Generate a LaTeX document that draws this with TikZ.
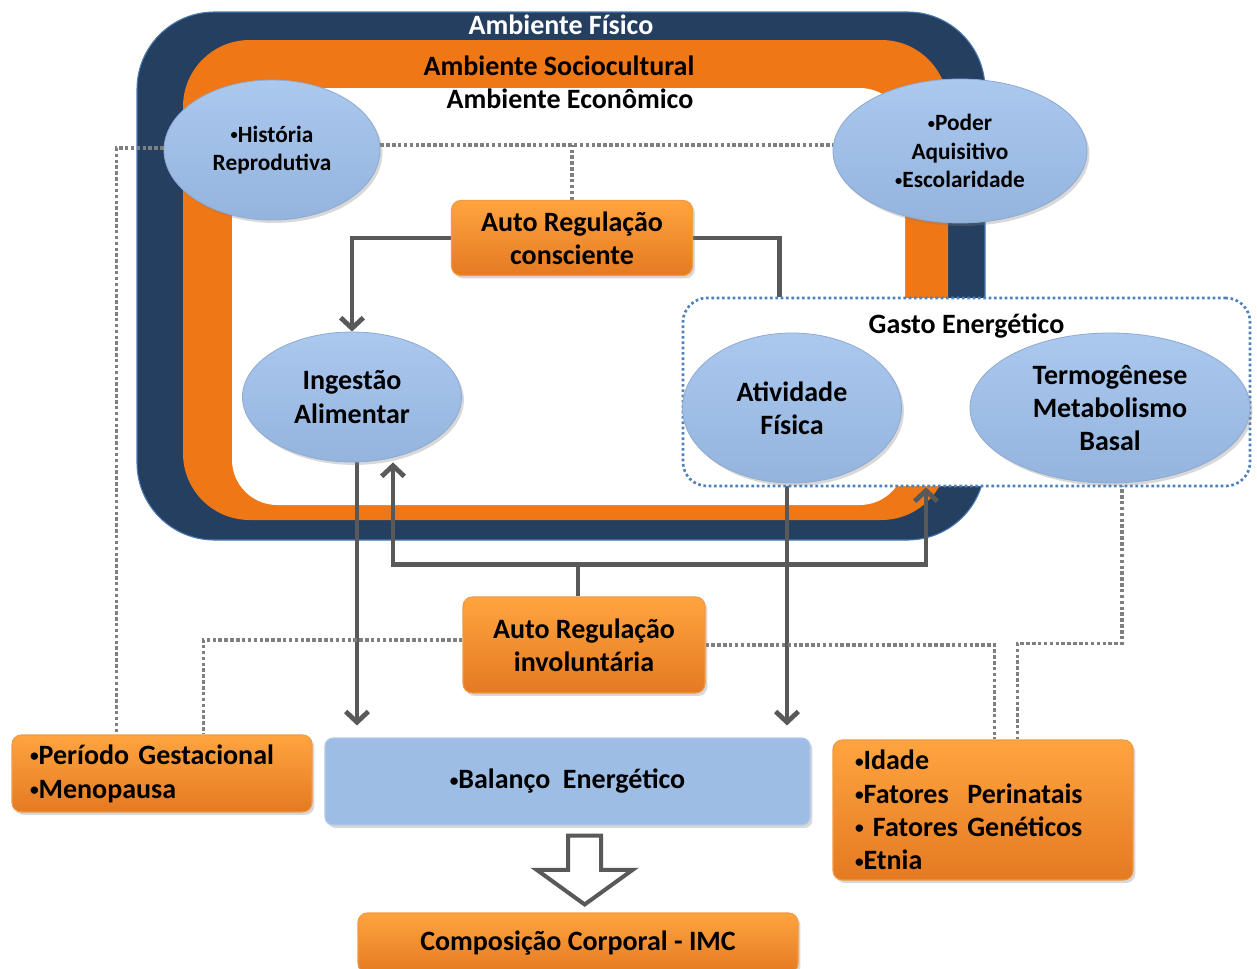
\documentclass[tikz,border=0pt]{standalone}
\usepackage{fontspec}
\setmainfont{Carlito}
\usetikzlibrary{shapes.geometric,arrows.meta,shadows,calc}
\definecolor{navy}{HTML}{243F60}
\definecolor{navyline}{HTML}{4A78B0}
\definecolor{frameor}{HTML}{EF7715}
\definecolor{ortop}{HTML}{FFA43F}
\definecolor{orbot}{HTML}{E47A22}
\definecolor{orline}{HTML}{F09A45}
\definecolor{elltop}{HTML}{ABC8EE}
\definecolor{ellbot}{HTML}{94B4DE}
\definecolor{ellline}{HTML}{8DAAD2}
\definecolor{boxblue}{HTML}{9EBDE4}
\definecolor{linegray}{HTML}{595959}
\definecolor{dotgray}{HTML}{7F7F7F}
\definecolor{gastoblue}{HTML}{4F81BD}
\newcommand\bul{\raisebox{0.2ex}{\scalebox{0.62}{•}}}
\pgfdeclarelayer{bg}
\pgfdeclarelayer{mid}
\pgfsetlayers{bg,mid,main}
\tikzset{
  bigtxt/.style={font=\bfseries\fontsize{21}{25}\selectfont},
  smalltxt/.style={font=\bfseries\fontsize{17.5}{21.5}\selectfont},
  shad/.style={drop shadow={opacity=0.3,shadow xshift=1.8pt,shadow yshift=-2.2pt}},
  ellnode/.style={ellipse, draw=ellline, line width=0.6pt, top color=elltop, bottom color=ellbot,
    shad, align=center, inner sep=0pt},
  orbox/.style={rectangle, rounded corners=7pt, draw=orline, line width=0.8pt,
    top color=ortop, bottom color=orbot, shad, align=center, inner sep=0pt, bigtxt},
  conn/.style={draw=linegray, line width=3.6pt},
  arrowend/.style={-{Straight Barb[length=8pt,width=17pt]}},
  dots/.style={draw=dotgray, line width=2.6pt, dash pattern=on 2.6pt off 1.8pt},
}
\begin{document}
\begin{tikzpicture}[x=0.75pt,y=-0.75pt]
\useasboundingbox (0,0) rectangle (1257,968);

% ---- frame (environments)
\begin{pgfonlayer}{bg}
  \fill[white] (0,0) rectangle (1257,968);
  \draw[navyline, line width=0.8pt, fill=navy, rounded corners=58pt] (137,12) rectangle (985,540);
  \fill[frameor, rounded corners=50pt] (183,40) rectangle (948,520);
  \fill[white, rounded corners=34pt] (232,88) rectangle (905,505);
\end{pgfonlayer}

\node[bigtxt, text=white] (afis) at (561,25) {Ambiente Físico};
\node[bigtxt] (asoc) at (559,66) {Ambiente Sociocultural};
\node[bigtxt] (aeco) at (570,99) {Ambiente Econômico};

% ---- nodes
\node[draw=gastoblue, line width=2pt, dash pattern=on 2pt off 2pt, fill=white,
      rounded corners=18pt, minimum width=425.25pt, minimum height=141pt] (gasto) at (966.5,392) {};
\node[bigtxt] (gastolbl) at ($(gasto.north)+(0,29)$) {Gasto Energético};

\node[ellnode, smalltxt, minimum width=162pt, minimum height=105pt] (hist) at (272,150)
  {\bul História\\Reprodutiva};
\node[ellnode, smalltxt, minimum width=190.5pt, minimum height=108pt] (poder) at (960,151)
  {\bul Poder\\Aquisitivo\\\bul Escolaridade};
\node[orbox, minimum width=180.75pt, minimum height=56.25pt] (autoc) at (572,238)
  {Auto Regulação\\consciente};
\node[ellnode, bigtxt, minimum width=164.25pt, minimum height=97.5pt] (ingest) at (352,397)
  {Ingestão\\Alimentar};
\node[ellnode, bigtxt, minimum width=164.25pt, minimum height=112.5pt] (ativ) at (792,408)
  {Atividade\\Física};
\node[ellnode, bigtxt, minimum width=210pt, minimum height=112.5pt] (termo) at (1110,408)
  {Termogênese\\Metabolismo\\Basal};
\node[orbox, minimum width=181.5pt, minimum height=72pt] (autoi) at (584,645)
  {Auto Regulação\\involuntária};
\node[orbox, minimum width=225pt, minimum height=57.75pt, text width=198pt, align=left,
      inner xsep=13.5pt, font=\bfseries\fontsize{21}{25.5}\selectfont] (periodo) at (162,773.5)
  {\bul Período Gestacional\\\bul Menopausa};
\node[rectangle, rounded corners=6pt, draw=boxblue!80!white, line width=0.8pt, fill=boxblue,
      shad, bigtxt, minimum width=363.75pt, minimum height=65.25pt] (balanco) at (567.5,781.5)
  {\raisebox{-1.5pt}{\bul Balanço~~Energético}};
\node[orbox, minimum width=225pt, minimum height=105pt, text width=192pt, align=left,
      inner xsep=16.5pt] (idade) at (983,810)
  {\bul Idade\\\bul Fatores~~Perinatais\\\bul~Fatores Genéticos\\\bul Etnia};
\node[orbox, minimum width=330pt, minimum height=45pt] (comp) at (578,943)
  {Composição Corporal - IMC};

% ---- connectors
\begin{pgfonlayer}{mid}
  % solid gray
  \draw[conn, arrowend] (autoc.west) -| (ingest.north);
  \draw[conn] (autoc.east) -| ($(gasto.north west)+(98,0)$);
  \coordinate (ia) at ($(ingest.south)+(5,0)$);
  \draw[conn, arrowend, shorten >=9pt] (ia) -- (ia |- balanco.north);
  \coordinate (aa) at ($(ativ.south)+(-5,0)$);
  \draw[conn, arrowend, shorten >=9pt] (aa) -- (aa |- balanco.north);
  \coordinate (ist) at ($(autoi.north)+(-6,0)$);
  \coordinate (bar) at ($(ist)+(0,-32)$);
  \coordinate (iu) at ($(ingest.south)+(41,0)$);
  \coordinate (gu) at ($(gasto.south)+(-40.5,0)$);
  \draw[conn] (ist) -- (bar);
  \draw[conn, arrowend] (bar) -| (iu);
  \draw[conn, arrowend] (bar) -| (gu);
  % dotted gray
  \coordinate (hp) at ($(hist.east)+(0,-5)$);
  \draw[dots] (hp) -- (hp -| poder.west);
  \draw[dots] (autoc.north) -- (autoc.north |- hp);
  \draw[dots] ($(hist.west)+(0,-2)$) -| ($(periodo.north west)+(105,0)$);
  \draw[dots] ($(autoi.west)+(0,-5)$) -| ($(periodo.north west)+(192,0)$);
  \draw[dots] (autoi.east) -| ($(idade.north west)+(162,0)$);
  \coordinate (ts) at ($(termo.south)+(12,0)$);
  \draw[dots] (ts) -- ++(0,160) -| ($(idade.north west)+(185,0)$);
\end{pgfonlayer}

% ---- hollow arrow from balance to body composition
\draw[linegray, line width=3pt, fill=white, line join=miter]
  let \p1=(balanco.south), \p2=(comp.north) in
  (\x2+5pt-12.4pt,\y1-7.5pt) -- (\x2+5pt+12.4pt,\y1-7.5pt) -- (\x2+5pt+12.4pt,\y2+32pt)
  -- (\x2+5pt+36pt,\y2+32pt) -- (\x2+5pt,\y2+6pt) -- (\x2+5pt-36pt,\y2+32pt)
  -- (\x2+5pt-12.4pt,\y2+32pt) -- cycle;
\end{tikzpicture}
\end{document}
